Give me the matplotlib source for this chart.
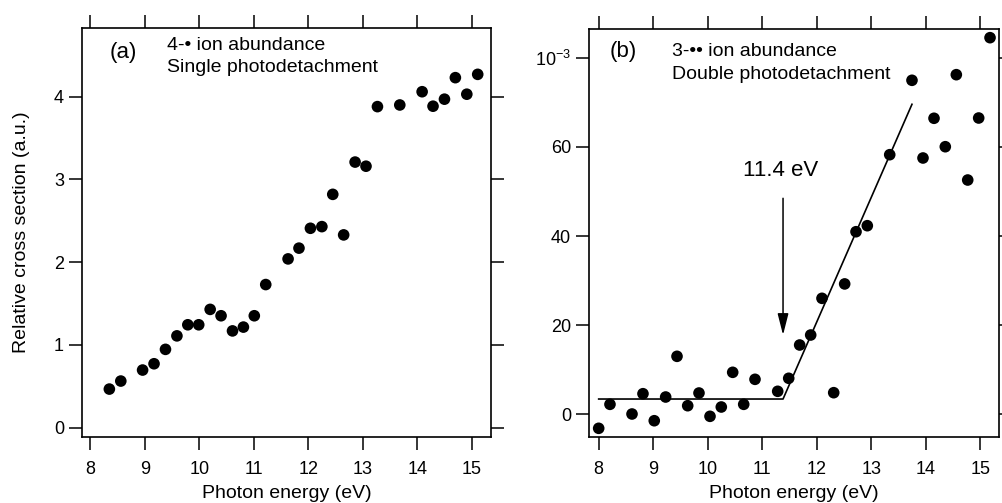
import matplotlib
matplotlib.use("Agg")
import matplotlib.pyplot as plt

plt.rcParams['font.family'] = ['Liberation Sans', 'DejaVu Sans']
plt.rcParams['mathtext.default'] = 'regular'
plt.rcParams['axes.unicode_minus'] = False

# ---- Panel (a): single photodetachment ----
energy_a = [8.35, 8.56, 8.96, 9.17, 9.38, 9.59, 9.79, 9.99, 10.20, 10.40,
            10.61, 10.81, 11.01, 11.22, 11.63, 11.83, 12.04, 12.25, 12.45, 12.65,
            12.86, 13.06, 13.27, 13.68, 14.09, 14.29, 14.50, 14.70, 14.91, 15.11]
cross_a = [0.467, 0.564, 0.697, 0.773, 0.947, 1.11, 1.244, 1.244, 1.43, 1.353,
           1.17, 1.216, 1.353, 1.73, 2.04, 2.17, 2.41, 2.43, 2.82, 2.33,
           3.21, 3.16, 3.88, 3.90, 4.06, 3.885, 3.97, 4.23, 4.03, 4.27]

# ---- Panel (b): double photodetachment ----
energy_b = [8.00, 8.207, 8.611, 8.812, 9.019, 9.228, 9.436, 9.632, 9.839, 10.041,
            10.248, 10.457, 10.659, 10.866, 11.282, 11.484, 11.685, 11.887, 12.094, 12.309,
            12.510, 12.718, 12.925, 13.336, 13.744, 13.946, 14.148, 14.355, 14.557, 14.766,
            14.967, 15.175]
cross_b = [-3.14, 2.24, 0.07, 4.62, -1.44, 3.88, 13.01, 1.93, 4.78, -0.45,
           1.64, 9.42, 2.24, 7.85, 5.16, 8.08, 15.55, 17.79, 26.02, 4.85,
           29.25, 40.96, 42.31, 58.24, 74.93, 57.50, 66.41, 60.03, 76.19, 52.56,
           66.47, 84.49]

fit_x = [8.0, 11.38, 13.744]
fit_y = [3.43, 3.43, 69.55]

threshold = 11.38
arrow_top, arrow_tip = 48.46, 17.79

xticks = [8, 9, 10, 11, 12, 13, 14, 15]
yticks_a = [0, 1, 2, 3, 4]
yticks_b = [0, 20, 40, 60, 80]
yticklabels_b = ['0', '20', '40', '60', r'$10^{-3}$']

fig = plt.figure(figsize=(10.03, 5.03), dpi=100)
W, H = 1003, 503

def add_axes(l, r, t, b):
    return fig.add_axes([l / W, 1 - b / H, (r - l) / W, (b - t) / H])

axa = add_axes(82, 491, 28, 437)
axb = add_axes(589.3, 999.3, 29.3, 437)

def style(ax):
    for s in ax.spines.values():
        s.set_linewidth(1.2)
        s.set_color('black')
    ax.tick_params(axis='both', which='major', direction='out', length=9.5, width=1.1,
                   top=True, right=True, labeltop=False, labelright=False,
                   labelsize=13, colors='black')
    ax.tick_params(axis='x', pad=8)
    ax.tick_params(axis='y', pad=3.5)
    ax.set_xticks(xticks)
    ax.set_xticklabels([str(t) for t in xticks])

# Panel (a)
axa.scatter(energy_a, cross_a, s=70, color='black', edgecolors='none', zorder=3)
axa.set_xlim(7.848, 15.354)
axa.set_ylim(-0.112, 4.83)
style(axa)
axa.set_yticks(yticks_a)
axa.set_yticklabels([str(t) for t in yticks_a])
axa.set_xlabel('Photon energy (eV)', fontsize=14, va='baseline')
axa.xaxis.set_label_coords(0.5, -0.150)
axa.set_ylabel('Relative cross section (a.u.)', fontsize=14, va='center')
axa.yaxis.set_label_coords(-0.147, 0.5)
axa.text(0.100, 0.941, '(a)', transform=axa.transAxes, fontsize=16, ha='center', va='center')
axa.text(0.207, 0.956, '4-\u2022 ion abundance', transform=axa.transAxes, fontsize=14,
         ha='left', va='center')
axa.text(0.207, 0.903, 'Single photodetachment', transform=axa.transAxes, fontsize=14,
         ha='left', va='center')

# Panel (b)
axb.scatter(energy_b, cross_b, s=70, color='black', edgecolors='none', zorder=3)
axb.plot(fit_x, fit_y, color='black', lw=1.2, zorder=2)
axb.set_xlim(7.828, 15.345)
axb.set_ylim(-5.09, 86.37)
style(axb)
axb.set_yticks(yticks_b)
axb.set_yticklabels(yticklabels_b)
axb.set_xlabel('Photon energy (eV)', fontsize=14, va='baseline')
axb.xaxis.set_label_coords(0.5, -0.150)
axb.annotate('', xy=(threshold, arrow_tip), xytext=(threshold, arrow_top),
             arrowprops=dict(arrowstyle='-|>,head_length=1.3,head_width=0.33',
                             mutation_scale=10, color='black', lw=1.1,
                             shrinkA=0, shrinkB=0))
axb.text(11.33, 54.65, '11.4 eV', fontsize=16, ha='center', va='center')
axb.text(0.082, 0.945, '(b)', transform=axb.transAxes, fontsize=16, ha='center', va='center')
axb.text(0.201, 0.945, '3-\u2022\u2022 ion abundance', transform=axb.transAxes, fontsize=14,
         ha='left', va='center')
axb.text(0.201, 0.888, 'Double photodetachment', transform=axb.transAxes, fontsize=14,
         ha='left', va='center')

fig.savefig('out.png', dpi=100)
